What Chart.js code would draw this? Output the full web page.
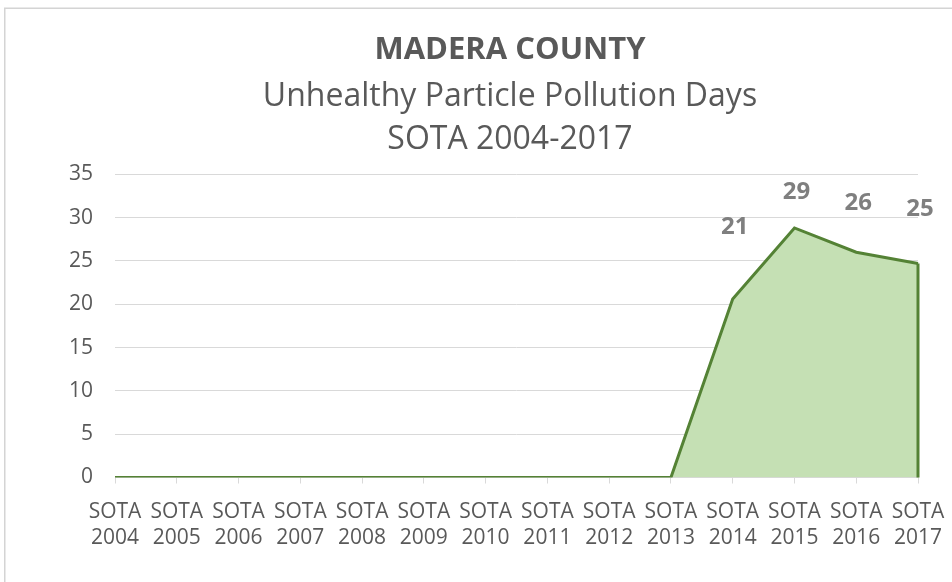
<!DOCTYPE html>
<html>
<head>
<meta charset="utf-8">
<script src="https://cdn.jsdelivr.net/npm/chart.js@4.4.0/dist/chart.umd.min.js"></script>
<style>
  html, body { margin: 0; padding: 0; background: #ffffff; }
  #wrap { position: relative; width: 952px; height: 582px; }
</style>
</head>
<body>
<div id="wrap"><canvas id="c" width="952" height="582"></canvas></div>
<script>
// ---- data ----
const categories = [
  ['SOTA', '2004'], ['SOTA', '2005'], ['SOTA', '2006'], ['SOTA', '2007'],
  ['SOTA', '2008'], ['SOTA', '2009'], ['SOTA', '2010'], ['SOTA', '2011'],
  ['SOTA', '2012'], ['SOTA', '2013'], ['SOTA', '2014'], ['SOTA', '2015'],
  ['SOTA', '2016'], ['SOTA', '2017']
];
const pollutionDays = [0, 0, 0, 0, 0, 0, 0, 0, 0, 0, 20.6, 28.8, 26.0, 24.7];
const yTickMin = 0;
const yTickMax = 35;
const yTickStep = 5;
const titleText = 'MADERA COUNTY';
const subtitleLines = ['Unhealthy Particle Pollution Days', 'SOTA 2004-2017'];

const FONT = "'Open Sans', 'Liberation Sans', sans-serif";
const TEXT = '#595959';
const GRID = '#d9d9d9';

const framePlugin = {
  id: 'frame',
  beforeDraw(chart) {
    const ctx = chart.ctx;
    ctx.save();
    ctx.fillStyle = '#ffffff';
    ctx.fillRect(0, 0, chart.width, chart.height);
    ctx.strokeStyle = '#d4d4d4';
    ctx.lineWidth = 1.5;
    ctx.beginPath();
    ctx.moveTo(4.75, chart.height);
    ctx.lineTo(4.75, 8.25);
    ctx.lineTo(chart.width, 8.25);
    ctx.stroke();
    ctx.restore();
  }
};

// The original chart object is wider than the crop, so its titles sit right of the canvas centre.
const titleShiftPlugin = {
  id: 'titleShift',
  afterLayout(chart, args, opts) {
    chart.boxes.forEach(b => {
      if (b.options && b.options.text !== undefined && b.position === 'top') {
        b.left += opts.shift;
        b.right += opts.shift;
      }
    });
  }
};

const edgePlugin = {
  id: 'areaEdge',
  afterDatasetsDraw(chart) {
    const meta = chart.getDatasetMeta(0);
    const last = meta.data[meta.data.length - 1];
    const y0 = chart.scales.y.getPixelForValue(0);
    const ctx = chart.ctx;
    ctx.save();
    ctx.strokeStyle = '#548235';
    ctx.lineWidth = 3;
    ctx.beginPath();
    ctx.moveTo(last.x, last.y);
    ctx.lineTo(last.x, y0);
    ctx.stroke();
    ctx.restore();
  }
};

const valueLabelPlugin = {
  id: 'valueLabels',
  afterDatasetsDraw(chart, args, opts) {
    const meta = chart.getDatasetMeta(0);
    const ctx = chart.ctx;
    ctx.save();
    ctx.font = 'bold 24px ' + FONT;
    ctx.fillStyle = '#7f7f7f';
    ctx.textAlign = 'center';
    ctx.textBaseline = 'middle';
    meta.data.forEach((pt, i) => {
      const v = pollutionDays[i];
      if (!v) return;
      const lift = opts.lift[i] || 40;
      ctx.fillText(String(Math.round(v)), pt.x + 2, pt.y - lift);
    });
    ctx.restore();
  }
};

function build() {
  new Chart(document.getElementById('c'), {
    type: 'line',
    data: {
      labels: categories,
      datasets: [{
        data: pollutionDays,
        borderColor: '#548235',
        backgroundColor: '#c5e0b4',
        borderWidth: 3,
        fill: 'origin',
        tension: 0,
        pointRadius: 0,
        pointHoverRadius: 0
      }]
    },
    options: {
      responsive: false,
      animation: false,
      events: [],
      layout: { padding: { left: 0, right: 0, top: 0, bottom: 16 } },
      plugins: {
        legend: { display: false },
        tooltip: { enabled: false },
        title: {
          display: true,
          text: titleText,
          color: TEXT,
          font: { family: FONT, size: 31, weight: 'bold', lineHeight: 1.2 },
          padding: { top: 32, bottom: 0 }
        },
        subtitle: {
          display: true,
          text: subtitleLines,
          color: TEXT,
          font: { family: FONT, size: 32, weight: 'normal', lineHeight: 1.344 },
          padding: { top: 6, bottom: 13 }
        },
        titleShift: { shift: 34 },
        valueLabels: { lift: { 10: 72, 11: 36, 12: 49, 13: 54 } }
      },
      scales: {
        x: {
          offset: false,
          grid: { display: true, drawOnChartArea: false, drawTicks: true, tickLength: 6, color: GRID },
          border: { display: true, color: GRID },
          ticks: {
            color: TEXT,
            font: { family: FONT, size: 21, lineHeight: 1.25 },
            padding: 15,
            maxRotation: 0,
            minRotation: 0,
            autoSkip: false
          },
          afterFit(scale) { scale.paddingRight = 34; }
        },
        y: {
          min: yTickMin,
          max: yTickMax,
          grid: { color: GRID, drawTicks: false },
          border: { display: false },
          ticks: {
            stepSize: yTickStep,
            color: TEXT,
            font: { family: FONT, size: 21 },
            padding: 22
          },
          afterFit(scale) { scale.width = 115; }
        }
      }
    },
    plugins: [framePlugin, titleShiftPlugin, valueLabelPlugin, edgePlugin]
  });
}

if (document.fonts && document.fonts.load) {
  Promise.all([
    document.fonts.load("21px 'Open Sans'"),
    document.fonts.load("bold 31px 'Open Sans'")
  ]).then(build, build);
} else {
  build();
}
</script>
</body>
</html>
